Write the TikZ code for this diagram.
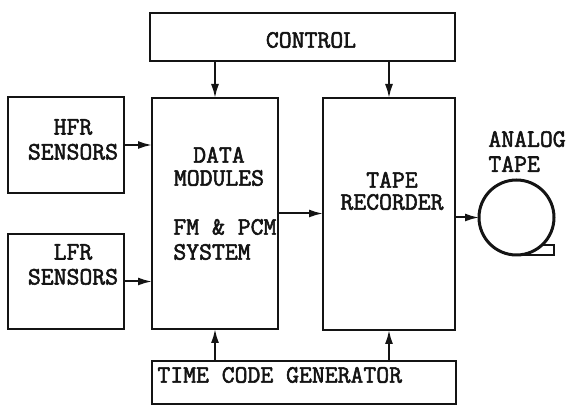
\documentclass[tikz,border=0pt]{standalone}
\usepackage{fontspec}
\newfontfamily\boxfont{Latin Modern Mono}[FakeBold=2.2]
\usepackage{tikz}
\usetikzlibrary{arrows.meta, positioning, calc}
\definecolor{ink}{RGB}{20,20,20}
\tikzset{
  block/.style={rectangle, draw=ink, line width=1.3pt,
    inner sep=0pt, outer sep=0pt},
  reelnode/.style={circle, draw=ink, line width=1.5pt,
    inner sep=0pt, outer sep=0pt, minimum size=37.5pt},
  txt/.style={font=\boxfont\fontsize{12.5}{12.5}\selectfont,
    text=ink, inner sep=0pt},
  arrow/.style={-{Latex[length=7pt,width=4pt]}, line width=1pt, color=ink},
  line/.style={line width=1.3pt, color=ink}
}

\begin{document}
\begin{tikzpicture}[x=0.5pt, y=-0.5pt]
  \useasboundingbox (0,0) rectangle (569,405);

  % Blocks
  \node[block, minimum width=152.5pt, minimum height=24pt]   (control) at (302.5,37)  {};
  \node[block, minimum width=58pt,    minimum height=48pt]   (hfr)     at (66,145)    {};
  \node[block, minimum width=58pt,    minimum height=47.5pt] (lfr)     at (66,281.5)  {};
  \node[block, minimum width=63pt,    minimum height=115.5pt](data)    at (215,213.5) {};
  \node[block, minimum width=66pt,    minimum height=116pt]  (tape)    at (389,214)   {};
  \node[block, minimum width=152pt,   minimum height=21.5pt] (tcg)     at (304,382.5) {};
  \node[reelnode] (reel) at (516.5,217.5) {};
  \draw[line] (reel.south) -- (reel.south -| reel.east) -- ++(0,-10) -- ++(-12,0);

  % Labels
  \node[txt] (controltxt) at (311,40) {CONTROL};
  \node[txt, align=center] (hfrtxt) at (73,139.5) {HFR\\SENSORS};
  \node[txt, align=center] (lfrtxt) at (73,264.5) {LFR\\SENSORS};
  \node[txt, align=center] (datatxt) at (219,166.5) {DATA\\[-1pt]MODULES};
  \node[txt, align=left, anchor=west] (systxt) at (173,239.5) {FM \& PCM\\SYSTEM};
  \node[txt, align=center] (tapetxt) at (392,191) {TAPE\\[-1.5pt]RECORDER};
  \node[txt, align=left, anchor=west] (reeltxt) at (488,151.5) {ANALOG\\TAPE};
  \node[txt, anchor=west] (tcgtxt) at (157,375) {TIME CODE GENERATOR};

  % Connections
  \draw[arrow] (control.south -| data.north) -- (data.north);
  \draw[arrow] (control.south -| tape.north) -- (tape.north);
  \draw[arrow] (hfr.east) -- (hfr.east -| data.west);
  \draw[arrow] (lfr.east) -- (lfr.east -| data.west);
  \draw[arrow] (data.east) -- (data.east -| tape.west);
  \draw[arrow] (reel.west -| tape.east) -- (reel.west);
  \draw[arrow] (tcg.north -| data.south) -- (data.south);
  \draw[arrow] (tcg.north -| tape.south) -- (tape.south);
\end{tikzpicture}
\end{document}
